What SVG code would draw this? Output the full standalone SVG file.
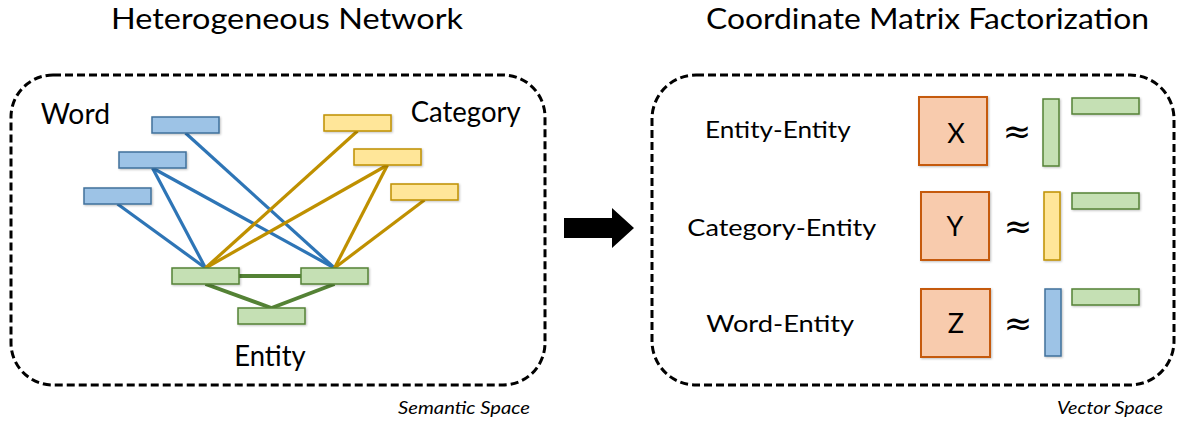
<svg xmlns="http://www.w3.org/2000/svg" width="1177" height="428" viewBox="0 0 1177 428">
<style>
  text { font-family: Lato, "Open Sans", "Liberation Sans", sans-serif; fill: #000; }
  .title { font-size: 28px; }
  .lbl { font-size: 29px; }
  .rowlbl { font-size: 23px; }
  .mat { font-size: 27px; text-anchor: middle; }
  .approx { font-family: "DejaVu Sans", sans-serif; font-size: 34px; text-anchor: middle; }
  .space { font-size: 18px; font-style: italic; }
  .frame { fill: none; stroke: #000; stroke-width: 3; stroke-dasharray: 8 4; }
  .blue { fill: #9DC3E6; stroke: #41719C; stroke-width: 1.5; }
  .yellow { fill: #FFE699; stroke: #BF9000; stroke-width: 1.5; }
  .green { fill: #C5E0B4; stroke: #548235; stroke-width: 1.5; }
  .orange { fill: #F8CBAD; stroke: #C55A11; stroke-width: 2; }
  .eb { stroke: #2E75B6; stroke-width: 3.2; fill: none; }
  .ey { stroke: #BF9000; stroke-width: 3.2; fill: none; }
  .eg { stroke: #548235; stroke-width: 3.8; fill: none; }
</style>
<defs>
  <filter id="sh" x="-20%" y="-40%" width="140%" height="180%">
    <feDropShadow dx="1" dy="1" stdDeviation="1.2" flood-color="#000" flood-opacity="0.25"/>
  </filter>
</defs>

<g id="titles">
  <text class="title" x="111" y="28.5" textLength="352" lengthAdjust="spacingAndGlyphs">Heterogeneous Network</text>
  <text class="title" x="706" y="28.5" textLength="443" lengthAdjust="spacingAndGlyphs">Coordinate Matrix Factorization</text>
</g>

<g id="frame-semantic">
  <rect class="frame" x="11" y="75" width="534" height="310" rx="42" ry="42"/>
  <text class="space" x="398" y="414" textLength="132" lengthAdjust="spacingAndGlyphs">Semantic Space</text>
</g>
<g id="frame-vector">
  <rect class="frame" x="652" y="75" width="522" height="310" rx="44" ry="44"/>
  <text class="space" x="1057" y="414" textLength="106" lengthAdjust="spacingAndGlyphs">Vector Space</text>
</g>

<g id="group-labels">
  <text class="lbl" x="40.7" y="124" textLength="69.3" lengthAdjust="spacingAndGlyphs">Word</text>
  <text class="lbl" x="410.7" y="121.7" textLength="110" lengthAdjust="spacingAndGlyphs">Category</text>
  <text class="lbl" x="234.3" y="366" textLength="71.4" lengthAdjust="spacingAndGlyphs">Entity</text>
</g>

<g id="connectors">
  <line class="eb" x1="185.5" y1="133" x2="334.5" y2="268"/>
  <line class="eb" x1="152.5" y1="168" x2="205.5" y2="268"/>
  <line class="eb" x1="152.5" y1="168" x2="334.5" y2="268"/>
  <line class="eb" x1="117.5" y1="204" x2="205.5" y2="268"/>
  <line class="ey" x1="357.5" y1="131" x2="205.5" y2="268"/>
  <line class="ey" x1="387.5" y1="165" x2="205.5" y2="268"/>
  <line class="ey" x1="387.5" y1="165" x2="334.5" y2="268"/>
  <line class="ey" x1="424.5" y1="200" x2="334.5" y2="268"/>
  <line class="eg" x1="239" y1="276" x2="301" y2="276"/>
  <line class="eg" x1="205.5" y1="284" x2="271.5" y2="308"/>
  <line class="eg" x1="334.5" y1="284" x2="271.5" y2="308"/>
</g>

<g id="word1"><rect class="blue" filter="url(#sh)" x="152" y="117" width="67" height="16"/></g>
<g id="word2"><rect class="blue" filter="url(#sh)" x="119" y="152" width="67" height="16"/></g>
<g id="word3"><rect class="blue" filter="url(#sh)" x="84" y="188" width="67" height="16"/></g>
<g id="cat1"><rect class="yellow" filter="url(#sh)" x="324" y="115" width="67" height="16"/></g>
<g id="cat2"><rect class="yellow" filter="url(#sh)" x="354" y="149" width="67" height="16"/></g>
<g id="cat3"><rect class="yellow" filter="url(#sh)" x="391" y="184" width="67" height="16"/></g>
<g id="ent1"><rect class="green" filter="url(#sh)" x="172" y="268" width="67" height="16"/></g>
<g id="ent2"><rect class="green" filter="url(#sh)" x="301" y="268" width="67" height="16"/></g>
<g id="ent3"><rect class="green" filter="url(#sh)" x="238" y="308" width="67" height="16"/></g>

<g id="arrow">
  <polygon points="564,218 612,218 612,208 634,228 612,248 612,238 564,238" fill="#000"/>
</g>

<g id="row-entity-entity">
  <text class="rowlbl" x="705" y="138.3" textLength="145.7" lengthAdjust="spacingAndGlyphs">Entity-Entity</text>
  <rect class="orange" filter="url(#sh)" x="919" y="97" width="68" height="68"/>
  <text class="mat" x="956" y="142.7">X</text>
  <text class="approx" x="1017" y="143">≈</text>
  <rect class="green" filter="url(#sh)" x="1043" y="99" width="16" height="67"/>
  <rect class="green" filter="url(#sh)" x="1072" y="98" width="67" height="16"/>
</g>
<g id="row-category-entity">
  <text class="rowlbl" x="687.3" y="236" textLength="189" lengthAdjust="spacingAndGlyphs">Category-Entity</text>
  <rect class="orange" filter="url(#sh)" x="921" y="192" width="68" height="68"/>
  <text class="mat" x="955" y="236">Y</text>
  <text class="approx" x="1018" y="238">≈</text>
  <rect class="yellow" filter="url(#sh)" x="1044" y="192" width="16" height="68"/>
  <rect class="green" filter="url(#sh)" x="1072" y="193" width="67" height="16"/>
</g>
<g id="row-word-entity">
  <text class="rowlbl" x="706.2" y="332" textLength="148" lengthAdjust="spacingAndGlyphs">Word-Entity</text>
  <rect class="orange" filter="url(#sh)" x="921" y="289" width="69" height="68"/>
  <text class="mat" x="956" y="333">Z</text>
  <text class="approx" x="1018" y="335">≈</text>
  <rect class="blue" filter="url(#sh)" x="1045" y="289" width="16" height="67"/>
  <rect class="green" filter="url(#sh)" x="1072" y="289" width="67" height="16"/>
</g>
</svg>
